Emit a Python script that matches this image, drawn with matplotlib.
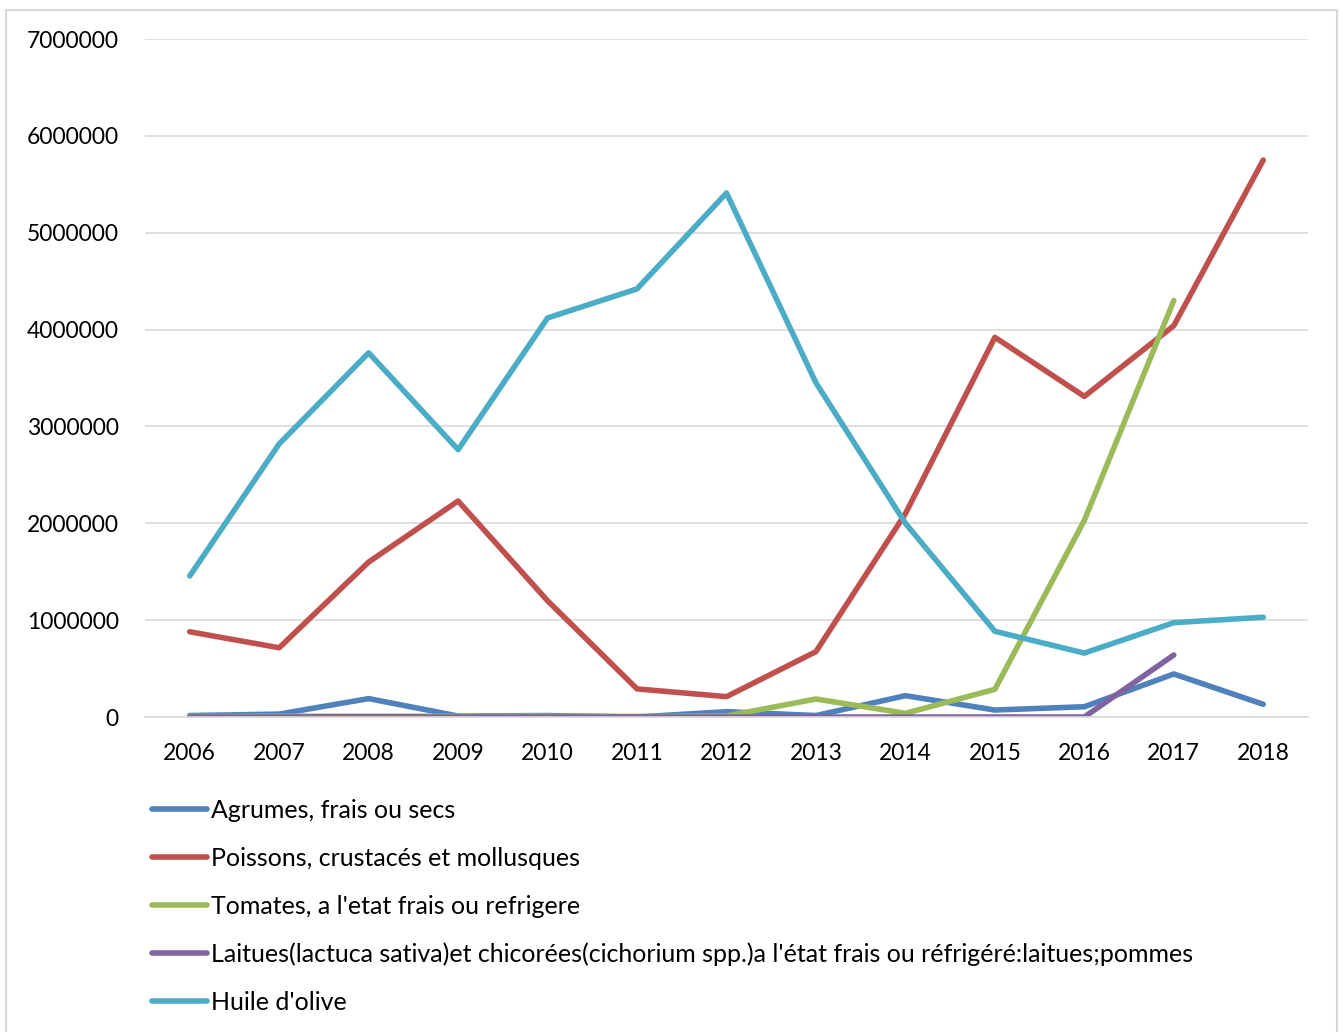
import matplotlib
matplotlib.use("Agg")
import matplotlib.pyplot as plt
import numpy as np
from matplotlib.patches import Rectangle

years = ["2006", "2007", "2008", "2009", "2010", "2011", "2012",
         "2013", "2014", "2015", "2016", "2017", "2018"]

agrumes = [15000, 30000, 190000, 10000, 15000, 0, 55000,
           15000, 220000, 72000, 106000, 444000, 131000]
poissons = [880000, 715000, 1600000, 2230000, 1200000, 290000, 210000,
            675000, 2100000, 3920000, 3310000, 4040000, 5750000]
tomates = [5000, 8000, 8000, 8000, 8000, 5000, 10000,
           186000, 38000, 286000, 2030000, 4300000, np.nan]
laitues = [0, 0, 0, 0, 0, 0, 0,
           0, 0, 0, 0, 640000, np.nan]
huile = [1456000, 2820000, 3760000, 2760000, 4120000, 4420000, 5410000,
         3450000, 2000000, 885000, 660000, 974000, 1030000]

labels = ["Agrumes, frais ou secs",
          "Poissons, crustacés et mollusques",
          "Tomates, a l'etat frais ou refrigere",
          "Laitues(lactuca sativa)et chicorées(cichorium spp.)a l'état frais ou réfrigéré:laitues;pommes",
          "Huile d'olive"]
series = [agrumes, poissons, tomates, laitues, huile]
colors = ["#4F81BD", "#C0504D", "#9BBB59", "#8064A2", "#4BACC6"]

plt.rcParams['font.family'] = ['Lato', 'DejaVu Sans']

W, H = 1343, 1032
fig = plt.figure(figsize=(W / 100, H / 100), dpi=100)
ax = fig.add_axes([145 / W, (H - 717) / H, (1308 - 145) / W, (717 - 39) / H])

x = np.arange(len(years))
for vals, lab, col in zip(series, labels, colors):
    ax.plot(x, vals, color=col, lw=4.0, label=lab,
            solid_capstyle='round', solid_joinstyle='round')

ax.set_xlim(-0.5, len(years) - 0.5)
ax.set_ylim(0, 7000000)
ax.set_yticks(np.arange(0, 7000001, 1000000))
ax.set_yticklabels([str(v) for v in range(0, 7000001, 1000000)])
ax.set_xticks(x)
ax.set_xticklabels(years)
ax.tick_params(axis='both', length=0, labelsize=16.5, colors='black')
ax.tick_params(axis='x', pad=19)
ax.tick_params(axis='y', pad=19)
ax.yaxis.grid(True, color='#d9d9d9', lw=1.2)
ax.set_axisbelow(True)
for s in ['top', 'right', 'left']:
    ax.spines[s].set_visible(False)
ax.spines['bottom'].set_color('#d9d9d9')
ax.spines['bottom'].set_linewidth(1.2)

leg = fig.legend(loc='upper left', bbox_to_anchor=(152 / W, (H - 799) / H),
                 frameon=False, fontsize=18, handlelength=2.2,
                 handletextpad=0.16, labelspacing=0.99, borderpad=0,
                 borderaxespad=0)

fig.patches.append(Rectangle((6 / W, -0.05), (1337 - 6) / W, 1.05 - 10 / H,
                             transform=fig.transFigure, fill=False,
                             edgecolor='#d9d9d9', lw=1.5))

fig.savefig("out.png", dpi=100)
